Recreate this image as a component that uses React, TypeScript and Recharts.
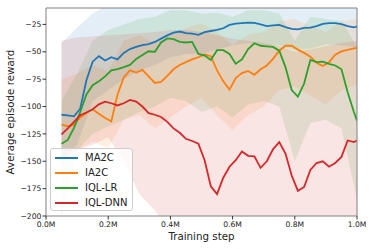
import React from "react";
import {
  ComposedChart,
  Line,
  Area,
  XAxis,
  YAxis,
  Legend,
  Label,
  ReferenceLine,
} from "recharts";

// training step grid for the mean curves (in millions of steps)
const steps: number[] = Array.from({ length: 48 }, (_, k) =>
  Number((0.05 + 0.02 * k).toFixed(2))
).concat([1.0]);

const ma2c = [
  -107.5, -108, -109, -102, -76, -59, -54, -58, -55, -57, -51, -47.5, -45.5,
  -44, -43, -41, -38, -35, -32.5, -31.5, -33, -33.5, -34.5, -32, -31, -30,
  -28.5, -25.5, -24.2, -23.8, -23.3, -23.6, -25, -26.5, -25.8, -25.5, -27.5,
  -29, -29.5, -28.2, -28, -26.5, -24.5, -23.8, -23.8, -24.7, -26.5, -27.7, -27,
];
const ia2c = [
  -116.5, -118, -116.5, -110, -106, -102.5, -106.5, -110.5, -113.6, -89,
  -73.5, -67, -69, -66.5, -72.5, -78.5, -77.5, -72, -66, -62, -59.5, -57, -55,
  -52.5, -54, -67, -77, -84.5, -74, -69.5, -67.5, -71, -66, -62.5, -56.5, -49,
  -44.5, -44.5, -48, -51, -54.5, -60, -63, -59.5, -52.7, -49.7, -48.2, -46.8,
  -46.5,
];
const iqlLr = [
  -134, -130.5, -119.5, -105, -89, -80.5, -77, -72.5, -67, -65.8, -64, -62,
  -56.5, -53, -49.5, -50, -41.5, -37.8, -38.5, -41, -41.5, -41, -52, -53.5,
  -57.5, -48.5, -48.5, -52, -61, -57, -47.5, -42.2, -44.5, -45, -45.5, -49,
  -64, -85, -91, -79, -57.5, -59.5, -59, -61, -62.5, -66, -87, -105, -113,
];
const iqlDnn = [
  -125.5, -120, -114, -108, -105.5, -102.5, -98, -95.5, -97, -99, -97, -94,
  -95.5, -100, -106, -107.5, -109.5, -114, -120, -124, -129.5, -131.5, -134,
  -149, -173, -180, -165, -155, -149, -141, -145, -145.5, -156, -150, -139,
  -132.5, -143, -163, -177, -173.5, -158, -151.6, -150, -155, -151.6, -146,
  -131, -132.5, -131,
];

// shaded spread bands, read on a coarser grid
const bandSteps = [
  0.05, 0.1, 0.15, 0.2, 0.25, 0.3, 0.35, 0.4, 0.45, 0.5, 0.55, 0.6, 0.65, 0.7,
  0.75, 0.8, 0.85, 0.9, 0.95, 1.0,
];
const ma2cLo = [-150, -135, -95, -85, -75, -67, -62, -55, -52, -52, -48, -44, -42, -44, -44, -48, -47, -43, -44, -46];
const ma2cHi = [-42, -28, -15, -7, -5, -4, -4, -3, -3, -3, -3, -2, -2, -2, -3, -3, -3, -2, -3, -4];
const ia2cLo = [-140, -140, -132, -138, -112, -108, -120, -110, -100, -92, -108, -122, -108, -100, -85, -82, -90, -98, -85, -80];
const ia2cHi = [-75, -70, -62, -68, -40, -35, -42, -35, -28, -24, -32, -44, -34, -32, -22, -20, -27, -32, -22, -20];
const iqlLrLo = [-200, -140, -125, -118, -112, -105, -100, -92, -95, -105, -100, -110, -98, -95, -100, -150, -115, -112, -120, -185];
const iqlLrHi = [-95, -70, -40, -30, -25, -20, -18, -12, -12, -15, -14, -18, -12, -12, -15, -40, -18, -20, -22, -45];
const iqlDnnLo = [-150, -140, -135, -128, -150, -180, -195, -215, -230, -240, -250, -240, -235, -240, -235, -250, -245, -235, -230, -225];
const iqlDnnHi = [-40, -37, -36, -35, -34, -33, -32, -30, -30, -32, -35, -38, -40, -42, -45, -50, -48, -45, -42, -40];

const xTicks = [0, 0.2, 0.4, 0.6, 0.8, 1.0];
const yTicks = [-200, -175, -150, -125, -100, -75, -50, -25];

const FONT = "DejaVu Sans";

const series = [
  { key: "ma2c", name: "MA2C", color: "#1f77b4" },
  { key: "ia2c", name: "IA2C", color: "#ff7f0e" },
  { key: "iqlLr", name: "IQL-LR", color: "#2ca02c" },
  { key: "iqlDnn", name: "IQL-DNN", color: "#d62728" },
];

const lineData = steps.map((t, i) => ({
  t,
  ma2c: ma2c[i],
  ia2c: ia2c[i],
  iqlLr: iqlLr[i],
  iqlDnn: iqlDnn[i],
}));

const bandData = bandSteps.map((t, i) => ({
  t,
  ma2c: [ma2cLo[i], ma2cHi[i]],
  ia2c: [ia2cLo[i], ia2cHi[i]],
  iqlLr: [iqlLrLo[i], iqlLrHi[i]],
  iqlDnn: [iqlDnnLo[i], iqlDnnHi[i]],
}));

const fmtY = (v: number) => (v < 0 ? `\u2212${Math.abs(v)}` : String(v));
const fmtX = (v: number) => `${v.toFixed(1)}M`;

function LegendBox() {
  return (
    <div
      style={{
        width: 83,
        height: 63,
        boxSizing: "border-box",
        border: "1px solid #cccccc",
        borderRadius: 3,
        background: "rgba(255,255,255,0.8)",
        padding: "1px 0",
        fontFamily: FONT,
        fontSize: 10,
        color: "#222",
      }}
    >
      {series.map((s) => (
        <div
          key={s.key}
          style={{ display: "flex", alignItems: "center", height: 15.2 }}
        >
          <div
            style={{
              width: 23,
              height: 2,
              background: s.color,
              marginLeft: 4,
              marginRight: 7,
              flexShrink: 0,
            }}
          />
          <span style={{ lineHeight: "12px" }}>{s.name}</span>
        </div>
      ))}
    </div>
  );
}

const yLabel = (props: any) => {
  const vb = props.viewBox;
  const x = vb.x + 14.3;
  const y = vb.y + vb.height / 2;
  return (
    <text
      x={x}
      y={y}
      transform={`rotate(-90 ${x} ${y})`}
      textAnchor="middle"
      fontSize={10.3}
      fontFamily={FONT}
      fill="#222"
    >
      Average episode reward
    </text>
  );
};

const xLabel = (props: any) => {
  const vb = props.viewBox;
  return (
    <text
      x={vb.x + vb.width / 2}
      y={vb.y + 24}
      textAnchor="middle"
      fontSize={10.3}
      fontFamily={FONT}
      fill="#222"
    >
      Training step
    </text>
  );
};

export default function App() {
  return (
    <div style={{ position: "absolute", left: 0, top: 0, width: 374, height: 249, background: "#fff" }}>
      <ComposedChart
        width={374}
        height={249}
        data={lineData}
        margin={{ top: 8, right: 17, bottom: 0, left: 0 }}
      >
        <XAxis
          dataKey="t"
          type="number"
          domain={[0, 1]}
          ticks={xTicks}
          tickFormatter={fmtX}
          height={33}
          tickSize={3.5}
          tickMargin={2}
          axisLine={{ stroke: "#808080" }}
          tickLine={{ stroke: "#333" }}
          tick={{ fontSize: 7.6, fill: "#222", fontFamily: FONT }}
          allowDataOverflow
        >
          <Label content={xLabel} />
        </XAxis>
        <YAxis
          type="number"
          domain={[-200, -10]}
          ticks={yTicks}
          tickFormatter={fmtY}
          width={46}
          tickSize={3.5}
          tickMargin={1.2}
          axisLine={{ stroke: "#808080" }}
          tickLine={{ stroke: "#333" }}
          tick={{ fontSize: 7.6, fill: "#222", fontFamily: FONT }}
          allowDataOverflow
        >
          <Label content={yLabel} />
        </YAxis>
        {series.map((s) => (
          <Area
            key={`band-${s.key}`}
            data={bandData}
            dataKey={s.key}
            type="linear"
            stroke="none"
            fill={s.color}
            fillOpacity={0.12}
            isAnimationActive={false}
            legendType="none"
            activeDot={false}
            dot={false}
          />
        ))}
        {series.map((s) => (
          <Line
            key={`line-${s.key}`}
            dataKey={s.key}
            name={s.name}
            type="linear"
            stroke={s.color}
            strokeWidth={1.8}
            dot={false}
            activeDot={false}
            isAnimationActive={false}
          />
        ))}
        <ReferenceLine y={-10} stroke="#808080" />
        <ReferenceLine x={1} stroke="#808080" />
        <Legend
          layout="vertical"
          align="center"
          verticalAlign="middle"
          content={() => <LegendBox />}
          wrapperStyle={{ left: 50, top: 148, width: 83, height: 63 }}
        />
      </ComposedChart>
    </div>
  );
}
